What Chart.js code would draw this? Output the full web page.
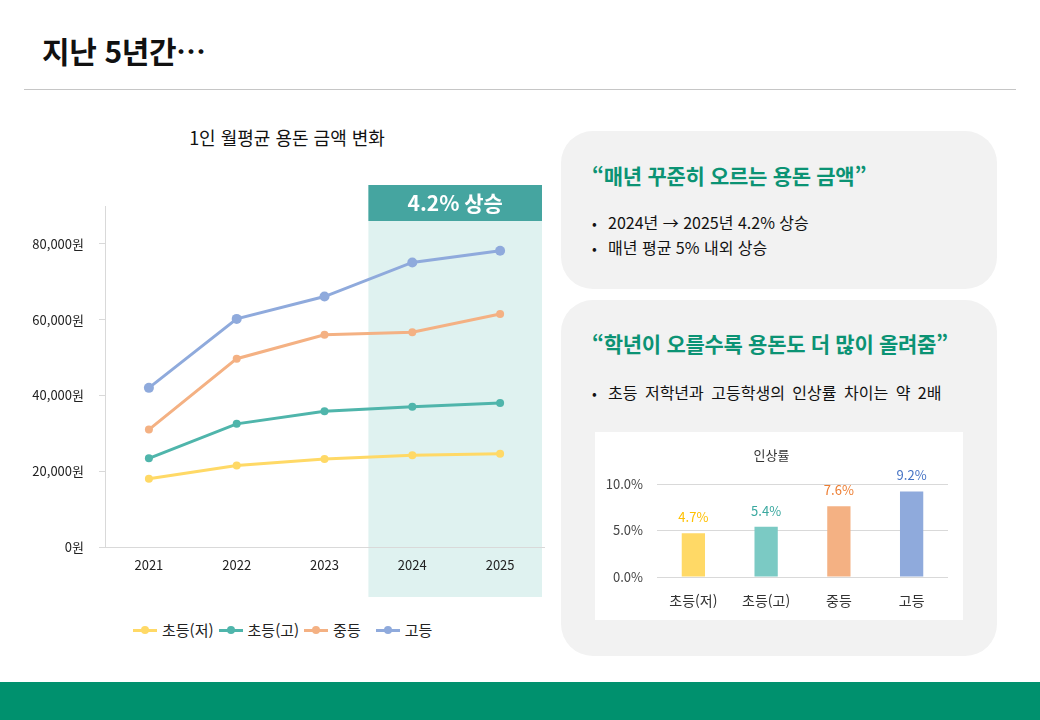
<!DOCTYPE html>
<html lang="ko">
<head>
<meta charset="utf-8">
<title>지난 5년간…</title>
<script src="https://cdn.jsdelivr.net/npm/chart.js@4.4.1/dist/chart.umd.min.js"></script>
<style>
  html, body { margin: 0; padding: 0; }
  body {
    width: 1040px; height: 720px; position: relative; overflow: hidden; background: #fff;
    font-family: "Noto Sans CJK KR", "Noto Sans", sans-serif; color: #111;
  }
  .page-title { position: absolute; left: 42px; top: 30px; font-size: 30px; font-weight: 700; letter-spacing: -0.4px; line-height: 40px; }
  .rule { position: absolute; left: 24px; top: 89px; width: 992px; height: 1px; background: #c6c6c6; }
  .chart-title { position: absolute; left: 0; width: 574px; top: 125px; text-align: center; font-size: 18px; line-height: 24px; letter-spacing: 0; }
  #lineWrap { position: absolute; left: 0; top: 100px; width: 560px; height: 500px; }
  .legend { position: absolute; left: 133px; top: 620px; display: flex; align-items: center; font-size: 15px; line-height: 20px; color: #222; }
  .legend .item { display: flex; align-items: center; margin-right: 5px; }
  .legend .sym { position: relative; width: 24px; height: 10px; margin-right: 5px; }
  .legend .sym .ln { position: absolute; left: 0; top: 4px; width: 24px; height: 3px; }
  .legend .sym .dt { position: absolute; left: 8px; top: 1px; width: 8px; height: 8px; border-radius: 50%; }
  .card { position: absolute; left: 561px; width: 436px; background: #f2f2f2; border-radius: 32px; }
  .card h2 { position: absolute; left: 31px; margin: 0; font-size: 21px; font-weight: 700; color: #0b9374; line-height: 28px; letter-spacing: -0.3px; white-space: nowrap; }
  .card .bullet { position: absolute; left: 31px; font-size: 16px; line-height: 22px; color: #111; white-space: nowrap; }
  .card .bullet span { display: inline-block; width: 16px; font-size: 14px; }
  #barBox { position: absolute; left: 34px; top: 132px; width: 368px; height: 188px; background: #fff; }
  .footer { position: absolute; left: 0; top: 682px; width: 1040px; height: 38px; background: #00916e; }
</style>
</head>
<body>
<div class="page-title">지난 5년간…</div>
<div class="rule"></div>

<div class="chart-title">1인 월평균 용돈 금액 변화</div>
<div id="lineWrap"><canvas id="lineChart"></canvas></div>
<div class="legend" id="legend"></div>

<div class="card" style="top:131px; height:158px;">
  <h2 style="top:30px;">“매년 꾸준히 오르는 용돈 금액”</h2>
  <div class="bullet" style="top:80px;"><span>•</span>2024년 → 2025년 4.2% 상승</div>
  <div class="bullet" style="top:105px;"><span>•</span>매년 평균 5% 내외 상승</div>
</div>

<div class="card" style="top:300px; height:356px;">
  <h2 style="top:29px;">“학년이 오를수록 용돈도 더 많이 올려줌”</h2>
  <div class="bullet" style="top:81px; word-spacing:3px;"><span>•</span>초등 저학년과 고등학생의 인상률 차이는 약 2배</div>
  <div id="barBox"><canvas id="barChart"></canvas></div>
</div>

<div class="footer"></div>

<script>
// ---------- DATA ----------
const years = ['2021', '2022', '2023', '2024', '2025'];
const seriesNames = ['초등(저)', '초등(고)', '중등', '고등'];
const elemLow  = [18000, 21500, 23200, 24200, 24600];
const elemHigh = [23400, 32500, 35800, 37000, 38000];
const middle   = [31000, 49700, 56000, 56700, 61500];
const high     = [42000, 60200, 66100, 75100, 78200];
const yTicks = [0, 20000, 40000, 60000, 80000];
const yMax = 90000;
const bandFrom = '2024';
const bandLabel = '4.2% 상승';

const rateNames = ['초등(저)', '초등(고)', '중등', '고등'];
const rates = [4.7, 5.4, 7.6, 9.2];
const rateTicks = [0, 5, 10];

// ---------- STYLE ----------
const lineColors = ['#ffd966', '#4fb5ab', '#f4b183', '#8faadc'];
const pointSizes = [4, 4, 4, 5];
const barColors = ['#ffd966', '#7bcac4', '#f4b183', '#8faadc'];
const rateLabelColors = ['#ffc000', '#3aa89f', '#ed7d31', '#4472c4'];
const FONT = '"Noto Sans CJK KR", "Noto Sans", sans-serif';
const axisGray = '#d9d9d9';

// ---------- HIGHLIGHT BAND ----------
const bandPlugin = {
    id: 'band',
    beforeDraw(chart) {
        const { ctx, chartArea, scales: { x } } = chart;
        const idx = years.indexOf(bandFrom);
        const step = x.getPixelForValue(1) - x.getPixelForValue(0);
        const left = (x.getPixelForValue(idx - 1) + x.getPixelForValue(idx)) / 2;
        const right = x.getPixelForValue(years.length - 1) + step / 2 - 2;
        const top = chartArea.top - 21;
        const bottom = chartArea.bottom + 50;
        ctx.save();
        ctx.fillStyle = '#dff2f0';
        ctx.fillRect(left, top, right - left, bottom - top);
        ctx.fillStyle = '#45a5a0';
        ctx.fillRect(left, top, right - left, 36);
        ctx.fillStyle = '#ffffff';
        ctx.font = `bold 21px ${FONT}`;
        ctx.textAlign = 'center';
        ctx.textBaseline = 'middle';
        ctx.fillText(bandLabel, (left + right) / 2, top + 18);
        ctx.restore();
    }
};

// ---------- LINE CHART ----------
const seriesValues = [elemLow, elemHigh, middle, high];

new Chart(document.getElementById('lineChart'), {
    type: 'line',
    data: {
        labels: years,
        datasets: seriesNames.map((name, i) => ({
            label: name,
            data: seriesValues[i],
            borderColor: lineColors[i],
            backgroundColor: lineColors[i],
            borderWidth: 3,
            pointRadius: pointSizes[i],
            pointHoverRadius: pointSizes[i],
            pointBorderWidth: 0,
            tension: 0
        }))
    },
    options: {
        responsive: true,
        maintainAspectRatio: false,
        animation: false,
        layout: { padding: { top: 106, right: 16, bottom: 0, left: 0 } },
        plugins: { legend: { display: false }, title: { display: false }, tooltip: { enabled: false } },
        scales: {
            x: {
                offset: true,
                grid: { display: true, drawOnChartArea: false, drawTicks: false },
                border: { color: axisGray, width: 1 },
                ticks: { color: '#222', font: { family: FONT, size: 13 }, padding: 10 },
                afterFit(scale) { scale.height = 53; }
            },
            y: {
                min: 0,
                max: yMax,
                grid: { display: true, drawOnChartArea: false, drawTicks: true, tickLength: 6, color: axisGray },
                border: { color: axisGray, width: 1 },
                ticks: {
                    color: '#222',
                    padding: 15,
                    font: { family: FONT, size: 13 },
                    callback: v => v.toLocaleString('en-US') + '원'
                },
                afterBuildTicks(scale) { scale.ticks = yTicks.map(v => ({ value: v })); },
                afterFit(scale) { scale.width = 105; }
            }
        }
    },
    plugins: [bandPlugin]
});

// ---------- LEGEND ----------
const legendEl = document.getElementById('legend');
seriesNames.forEach((name, i) => {
    const item = document.createElement('div');
    item.className = 'item';
    item.innerHTML = `<div class="sym"><div class="ln" style="background:${lineColors[i]}"></div>` +
        `<div class="dt" style="background:${lineColors[i]}"></div></div><div>${name}</div>`;
    if (i === 2) item.style.marginRight = '15px';
    legendEl.appendChild(item);
});

// ---------- BAR LABELS ----------
const rateLabelPlugin = {
    id: 'rateLabels',
    afterDatasetsDraw(chart) {
        const { ctx } = chart;
        const meta = chart.getDatasetMeta(0);
        ctx.save();
        ctx.font = `13px ${FONT}`;
        ctx.textAlign = 'center';
        ctx.textBaseline = 'middle';
        meta.data.forEach((bar, i) => {
            ctx.fillStyle = rateLabelColors[i];
            ctx.fillText(rates[i].toFixed(1) + '%', bar.x, bar.y - 16);
        });
        ctx.restore();
    }
};

// ---------- BAR CHART ----------
new Chart(document.getElementById('barChart'), {
    type: 'bar',
    data: {
        labels: rateNames,
        datasets: [{
            label: '인상률',
            data: rates,
            backgroundColor: barColors,
            barPercentage: 0.32,
            categoryPercentage: 1
        }]
    },
    options: {
        responsive: true,
        maintainAspectRatio: false,
        animation: false,
        layout: { padding: { top: 0, right: 15, bottom: 0, left: 0 } },
        plugins: {
            legend: { display: false },
            tooltip: { enabled: false },
            title: {
                display: true,
                text: '인상률',
                color: '#333',
                font: { family: FONT, size: 13, weight: 'normal' },
                padding: { top: 15, bottom: 21.4 }
            }
        },
        scales: {
            x: {
                grid: { display: false },
                border: { display: false },
                ticks: { color: '#333', font: { family: FONT, size: 14 }, padding: 7 },
                afterFit(scale) { scale.height = 43; }
            },
            y: {
                min: rateTicks[0],
                max: rateTicks[rateTicks.length - 1],
                grid: { color: axisGray, drawTicks: false },
                border: { display: false },
                ticks: {
                    color: '#444',
                    padding: 14,
                    font: { family: FONT, size: 13 },
                    callback: v => v.toFixed(1) + '%'
                },
                afterBuildTicks(scale) { scale.ticks = rateTicks.map(v => ({ value: v })); },
                afterFit(scale) { scale.width = 62; }
            }
        }
    },
    plugins: [rateLabelPlugin]
});
</script>
</body>
</html>
